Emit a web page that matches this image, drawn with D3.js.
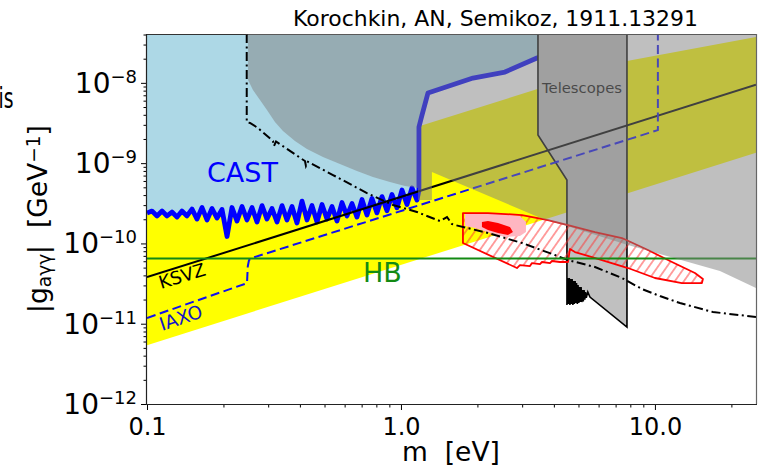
<!DOCTYPE html>
<html>
<head>
<meta charset="utf-8">
<script src="https://cdn.jsdelivr.net/npm/d3@7"></script>
<style>
  body { margin: 0; background: #fff; }
  svg { display: block; }
  text { font-family: "DejaVu Sans", sans-serif; }
</style>
</head>
<body>
<svg id="chart" width="771" height="472"></svg>
<script>
// ---- axes ----
const xDomain = [0.1, 25];          // axion mass m [eV]
const yDomain = [1e-12, 4.06e-8];   // |g_aγγ| [GeV^-1]
const xMajorTicks = [0.1, 1, 10];
const xMajorLabels = ["0.1", "1.0", "10.0"];
const yMajorTicks = [1e-12, 1e-11, 1e-10, 1e-9, 1e-8];
const yMajorExponents = ["−12", "−11", "−10", "−9", "−8"];

// ---- QCD axion band (yellow) ----
const bandLowM = [0.1, 25];
const bandLowG = [5.4e-12, 1.35e-9];
const bandUpM = [25, 7.76, 0.1];
const bandUpG = [3.72e-8, 1.87e-8, 2.5e-10];

// ---- CAST limit: oscillating low-mass part (g in units of 1e-10 GeV^-1) ----
const castUnit = 1e-10;
const castWiggleM = [0.1000,0.1046,0.1095,0.1146,0.1199,0.1254,0.1313,0.1373,0.1437,0.1504,
  0.1574,0.1647,0.1723,0.1803,0.1887,0.1974,0.2066,0.2161,0.2262,0.2367,
  0.2476,0.2591,0.2711,0.2837,0.2968,0.3106,0.3250,0.3401,0.3558,0.3723,
  0.3896,0.4077,0.4266,0.4463,0.4670,0.4887,0.5113,0.5350,0.5598,0.5858,
  0.6130,0.6414,0.6711,0.7022,0.7348,0.7689,0.8045,0.8418,0.8809,0.9217,
  0.9645,1.0092,1.0560,1.1050,1.1562];
const castWiggleG = [2.39,2.53,2.20,2.53,2.20,2.46,2.13,2.53,2.20,2.68,
  2.01,2.80,1.96,2.72,2.07,2.65,1.22,2.80,1.90,2.88,
  1.96,2.80,1.85,2.96,2.01,2.72,1.85,2.96,1.96,2.88,
  1.80,3.37,1.96,2.96,1.85,3.05,2.01,2.88,1.90,3.23,
  2.20,3.14,2.13,3.52,2.26,3.62,2.40,3.83,2.55,4.06,
  2.78,4.62,3.05,4.90,3.47];
// CAST high-mass edge
const castEdgeM = [1.177, 1.177, 1.21, 1.277, 1.921, 2.567, 3.431, 3.69];
const castEdgeG = [4.62e-10, 2.817e-9, 3.97e-9, 7.46e-9, 1.148e-8, 1.363e-8, 2.036e-8, 2.22e-8];

// ---- cosmological / astrophysical exclusion (grey, translucent) ----
const greyM = [0.25, 0.25, 0.2614, 0.2786, 0.2968, 0.3191, 0.3431, 0.3825, 0.4265, 0.493,
  0.5752, 0.6711, 0.7757, 0.9052, 1.037, 1.167, 1.167, 1.324, 1.324, 3.624,
  4.503, 7.83, 11.15, 18.03, 25, 25];
const greyG = [4.06e-8, 1.084e-8, 8.13e-9, 6.11e-9, 4.58e-9, 3.25e-9, 2.51e-9, 1.885e-9, 1.498e-9, 1.191e-9,
  9.74e-10, 7.97e-10, 6.71e-10, 5.82e-10, 5.19e-10, 4.9e-10, 3.47e-10, 3.47e-10, 7.75e-10, 2.01e-10,
  1.647e-10, 9.55e-11, 6.97e-11, 4.53e-11, 2.78e-11, 4.06e-8];

// ---- telescopes ----
const telM = [3.463, 3.463, 4.503, 4.503,
  4.53, 4.564, 4.60, 4.626, 4.66, 4.689, 4.72, 4.752, 4.78, 4.817, 4.85, 4.882,
  4.91, 4.948, 4.98, 5.015, 5.05, 5.083, 5.12, 5.152, 5.19, 5.222, 5.26, 5.293,
  5.33, 5.365, 5.44, 5.548, 7.76, 7.76];
const telG = [4.06e-8, 2.24e-9, 6.16e-10, 1.71e-11,
  3.71e-11, 1.76e-11, 3.71e-11, 1.71e-11, 3.60e-11, 1.76e-11, 3.60e-11, 1.71e-11, 3.40e-11, 1.76e-11, 3.40e-11, 1.81e-11,
  3.21e-11, 1.76e-11, 3.03e-11, 1.81e-11, 2.86e-11, 1.86e-11, 2.86e-11, 1.86e-11, 2.63e-11, 1.90e-11, 2.63e-11, 2.00e-11,
  2.48e-11, 2.10e-11, 2.48e-11, 2.15e-11, 9.1e-12, 4.06e-8];

// ---- reference lines ----
const ksvzM = [0.1, 25];
const ksvzG = [3.8e-11, 9.5e-9];
const iaxoM = [0.1, 0.2476, 0.2494, 0.2522, 0.259, 10.27, 10.27];
const iaxoG = [1.18e-11, 3.2e-11, 5.2e-11, 6.2e-11, 6.6e-11, 2.58e-9, 4.06e-8];
const hbM = [0.1, 25];
const hbG = [6.5e-11, 6.5e-11];
const dashDotM = [0.247, 0.247, 0.2544, 0.2735, 0.3133, 0.3162, 0.3221, 0.4188, 0.4226, 0.4304,
  0.5399, 0.7347, 0.9301, 1.156, 1.424, 1.518, 1.588, 1.632, 2.2, 2.996,
  4.039, 4.545, 5.806, 7.415, 8.888, 10.46, 12.54, 16.92, 25];
const dashDotG = [4.06e-8, 3.25e-9, 3.16e-9, 2.74e-9, 1.885e-9, 1.633e-9, 1.86e-9, 1.062e-9, 9.2e-10, 1.04e-9,
  7.11e-10, 4.24e-10, 3.008e-10, 2.46e-10, 1.901e-10, 2.132e-10, 1.744e-10, 1.695e-10, 1.348e-10, 1.012e-10,
  7.17e-11, 6.21e-11, 5.08e-11, 3.71e-11, 2.705e-11, 2.213e-11, 1.81e-11, 1.399e-11, 1.212e-11];

// ---- hatched allowed region with inner contours ----
const regionM = [1.754, 2.2, 2.996, 3.791, 4.545, 5.806, 7.415, 9.385, 11.67, 14.37,
  15.45, 15.31, 12.77, 10.0, 7.83, 6.185, 4.842, 4.628, 4.545, 4.227,
  3.932, 3.861, 3.591, 3.526, 3.279, 3.221, 2.941, 2.862, 1.754];
const regionG = [2.391e-10, 2.391e-10, 2.258e-10, 1.956e-10, 1.695e-10, 1.387e-10, 1.168e-10, 8.28e-11, 5.87e-11, 4.28e-11,
  3.60e-11, 3.21e-11, 3.21e-11, 3.71e-11, 4.94e-11, 6.21e-11, 7.81e-11, 8.52e-11, 5.87e-11, 5.87e-11,
  6.04e-11, 5.70e-11, 5.87e-11, 5.54e-11, 5.70e-11, 5.23e-11, 5.38e-11, 4.94e-11, 1.012e-10];
const pinkM = [1.786, 2.454, 2.941, 3.105, 3.105, 2.941, 2.567, 2.24, 1.956, 1.786];
const pinkG = [2.391e-10, 2.391e-10, 2.194e-10, 1.847e-10, 1.387e-10, 1.237e-10, 1.202e-10, 1.348e-10, 1.555e-10, 1.647e-10];
const coreM = [2.084, 2.2, 2.41, 2.686, 2.76, 2.638, 2.41, 2.2, 2.084];
const coreG = [1.847e-10, 1.901e-10, 1.795e-10, 1.6e-10, 1.387e-10, 1.273e-10, 1.348e-10, 1.469e-10, 1.6e-10];

// ---------------------------------------------------------------
const svg = d3.select("#chart");
const P = { left: 147, right: 756, top: 34, bottom: 404 };
const x = d3.scaleLog().domain(xDomain).range([P.left, P.right]);
const y = d3.scaleLog().domain(yDomain).range([P.bottom, P.top]);
const pts = (ms, gs, k = 1) => ms.map((m, i) => [m, gs[i] * k]);
const line = d3.line().x(d => x(d[0])).y(d => y(d[1]));
const area = d => line(d) + "Z";

const defs = svg.append("defs");
defs.append("clipPath").attr("id", "plotClip").append("rect")
  .attr("x", P.left).attr("y", P.top)
  .attr("width", P.right - P.left).attr("height", P.bottom - P.top);
const hatch = defs.append("pattern").attr("id", "hatch")
  .attr("patternUnits", "userSpaceOnUse").attr("width", 7.4).attr("height", 7.4)
  .attr("patternTransform", "rotate(35)");
hatch.append("line").attr("x1", 3.7).attr("y1", -1).attr("x2", 3.7).attr("y2", 8.4)
  .attr("stroke", "#ff3030").attr("stroke-width", 0.9);

const plot = svg.append("g").attr("clip-path", "url(#plotClip)");

// QCD band
plot.append("path")
  .attr("d", area(pts(bandLowM, bandLowG).concat(pts(bandUpM, bandUpG))))
  .attr("fill", "#ffff00");

// CAST excluded region
const castLine = pts(castWiggleM, castWiggleG, castUnit).concat(pts(castEdgeM, castEdgeG));
plot.append("path")
  .attr("d", area([[xDomain[0], yDomain[1]]].concat(castLine, [[castEdgeM[castEdgeM.length - 1], yDomain[1]]])))
  .attr("fill", "#add8e6");

// CAST limit line
plot.append("path").attr("d", line(castLine))
  .attr("fill", "none").attr("stroke", "#0000ff").attr("stroke-width", 4.8)
  .attr("stroke-linejoin", "round");

// telescopes
const telPts = pts(telM, telG);
plot.append("path").attr("d", area(telPts)).attr("fill", "#c0c0c0");
plot.append("path").attr("d", line(telPts)).attr("fill", "none")
  .attr("stroke", "#000").attr("stroke-width", 1.6).attr("stroke-linejoin", "miter");

// KSVZ
plot.append("path").attr("d", line(pts(ksvzM, ksvzG)))
  .attr("fill", "none").attr("stroke", "#000").attr("stroke-width", 2);

// IAXO sensitivity
plot.append("path").attr("d", line(pts(iaxoM, iaxoG)))
  .attr("fill", "none").attr("stroke", "#1010f0").attr("stroke-width", 2)
  .attr("stroke-dasharray", "9,4.5");

// top and right frame (partly under the grey layer)
svg.append("line").attr("x1", P.left).attr("x2", P.right).attr("y1", P.top + 0.5).attr("y2", P.top + 0.5)
  .attr("stroke", "#333").attr("stroke-width", 1.2);
svg.append("line").attr("x1", P.right + 0.5).attr("x2", P.right + 0.5).attr("y1", P.top).attr("y2", P.bottom)
  .attr("stroke", "#666").attr("stroke-width", 1.2);

// translucent grey exclusion
svg.append("path").attr("d", area(pts(greyM, greyG)))
  .attr("fill", "#808080").attr("fill-opacity", 0.5).attr("clip-path", "url(#plotClip)");

// hatched region
const regionPts = pts(regionM, regionG);
plot.append("path").attr("d", area(regionPts)).attr("fill", "url(#hatch)");
plot.append("path").attr("d", area(pts(pinkM, pinkG))).attr("fill", "#ffb6c1");
plot.append("path").attr("d", area(pts(coreM, coreG))).attr("fill", "#ff0000");
plot.append("path").attr("d", area(regionPts)).attr("fill", "none")
  .attr("stroke", "#ff0000").attr("stroke-width", 1.8).attr("stroke-linejoin", "round");

// dash-dot bound
plot.append("path").attr("d", line(pts(dashDotM, dashDotG)))
  .attr("fill", "none").attr("stroke", "#000").attr("stroke-width", 2)
  .attr("stroke-dasharray", "9,3.5,2,3.5");

// HB bound
plot.append("path").attr("d", line(pts(hbM, hbG)))
  .attr("fill", "none").attr("stroke", "#138a13").attr("stroke-width", 2);

// ---- region labels ----
plot.append("text").attr("x", 207).attr("y", 182).attr("font-size", 27)
  .attr("fill", "#0000ff").text("CAST");
plot.append("text").attr("x", 363).attr("y", 282).attr("font-size", 27)
  .attr("fill", "#138a13").text("HB");
plot.append("text").attr("x", 542).attr("y", 93).attr("font-size", 14.8)
  .attr("fill", "#111").text("Telescopes");
plot.append("text").attr("transform", "translate(161,289) rotate(-17)")
  .attr("font-size", 18).attr("fill", "#000").text("KSVZ");
plot.append("text").attr("transform", "translate(162,331) rotate(-18.5)")
  .attr("font-size", 18.5).attr("fill", "#1515c8").text("IAXO");

// ---- axes ----
const xMinor = x.ticks().filter(v => !xMajorTicks.some(t => Math.abs(t - v) / t < 1e-6));
const yMinor = y.ticks().filter(v => !yMajorTicks.some(t => Math.abs(t - v) / t < 1e-6));

const gx = svg.append("g").attr("transform", `translate(0,${P.bottom})`);
gx.call(d3.axisBottom(x).tickValues(xMinor).tickSize(3.5).tickFormat(""));
const gxMaj = svg.append("g").attr("transform", `translate(0,${P.bottom})`);
gxMaj.call(d3.axisBottom(x).tickValues(xMajorTicks).tickSize(6).tickPadding(8)
  .tickFormat((d, i) => xMajorLabels[i]));
const gy = svg.append("g").attr("transform", `translate(${P.left},0)`);
gy.call(d3.axisLeft(y).tickValues(yMinor).tickSize(3.5).tickFormat(""));
const gyMaj = svg.append("g").attr("transform", `translate(${P.left},0)`);
gyMaj.call(d3.axisLeft(y).tickValues(yMajorTicks).tickSize(6).tickFormat(""));
svg.selectAll(".domain").remove();
svg.selectAll(".tick line").attr("stroke", "#000").attr("stroke-width", 1);
gxMaj.selectAll(".tick text").attr("font-size", 24).attr("fill", "#000")
  .attr("font-family", "DejaVu Sans, sans-serif");

yMajorTicks.forEach((t, i) => {
  const tx = svg.append("text").attr("x", 137).attr("y", y(t) + 10)
    .attr("text-anchor", "end").attr("font-size", 28).attr("fill", "#000");
  tx.append("tspan").text("10");
  tx.append("tspan").attr("font-size", 18).attr("dy", -10).text(yMajorExponents[i]);
});

// left and bottom spines
svg.append("line").attr("x1", P.left - 0.5).attr("x2", P.left - 0.5).attr("y1", P.top).attr("y2", P.bottom + 0.5)
  .attr("stroke", "#222").attr("stroke-width", 1.2);
svg.append("line").attr("x1", P.left - 1).attr("x2", P.right + 1).attr("y1", P.bottom + 0.5).attr("y2", P.bottom + 0.5)
  .attr("stroke", "#222").attr("stroke-width", 1.2);

// axis titles
svg.append("text").attr("x", 451).attr("y", 461).attr("text-anchor", "middle")
  .attr("font-size", 26.5).attr("fill", "#000").style("white-space", "pre")
  .text("m  [eV]");
const yl = svg.append("text").attr("transform", "translate(47,219) rotate(-90)")
  .attr("text-anchor", "middle").attr("font-size", 26).attr("fill", "#000")
  .style("white-space", "pre");
yl.append("tspan").text("|g");
yl.append("tspan").attr("font-size", "0.7em").attr("dy", "0.2em").text("aγγ");
yl.append("tspan").attr("dy", "-0.14em").text("|  [GeV");
yl.append("tspan").attr("font-size", "0.7em").attr("dy", "-0.4em").text("−1");
yl.append("tspan").attr("dy", "0.28em").text("]");
const ylLen = yl.node().getComputedTextLength();
yl.attr("font-size", 26 * 188 / ylLen);

// fragment of a neighbouring label at the left edge
svg.append("text").attr("x", -1.5).attr("y", 108).attr("font-size", 28)
  .attr("textLength", 15).attr("lengthAdjust", "spacingAndGlyphs")
  .attr("fill", "#000").text("is");

// title
const title = svg.append("text").attr("x", 293).attr("y", 26)
  .attr("font-family", "Open Sans, sans-serif").attr("font-size", 22).attr("fill", "#000")
  .text("Korochkin, AN, Semikoz, 1911.13291");
const tl = title.node().getComputedTextLength();
title.attr("font-size", 22 * 405 / tl);
</script>
</body>
</html>
